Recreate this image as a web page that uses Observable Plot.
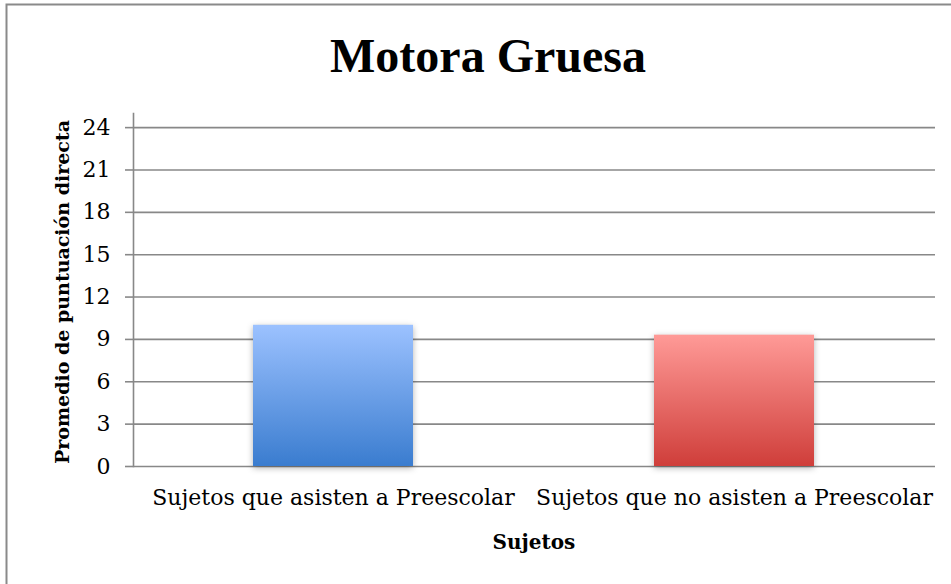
<!DOCTYPE html>
<html><head><meta charset="utf-8">
<script src="https://cdn.jsdelivr.net/npm/d3@7"></script>
<script src="https://cdn.jsdelivr.net/npm/@observablehq/plot@0.6"></script>
<style>body{margin:0;background:#fff}</style>
</head><body><div id="chart"></div>
<script>
const title = "Motora Gruesa";
const yLabel = "Promedio de puntuación directa";
const xLabel = "Sujetos";
const categories = ["Sujetos que asisten a Preescolar", "Sujetos que no asisten a Preescolar"];
const values = [10.0, 9.3];
const yTicks = [0, 3, 6, 9, 12, 15, 18, 21, 24];
const gradientTop = ["#9CC2FF", "#FF9A97"];
const gradientBottom = ["#3A7CCF", "#CF3E3A"];

const data = categories.map((c, i) => ({cat: c, value: values[i], fill: `url(#grad${i})`}));
const labelFont = "'DejaVu Serif', serif";

const chart = Plot.plot({
  width: 951, height: 584,
  marginTop: 113, marginBottom: 118, marginLeft: 133, marginRight: 16,
  style: {fontFamily: labelFont, fontSize: "22px", color: "#000", background: "#fff", overflow: "visible"},
  x: {domain: categories, paddingInner: 0.6, paddingOuter: 0.3, label: null, tickSize: 0, tickPadding: 23},
  y: {domain: [0, 25], ticks: yTicks, label: null, tickSize: 8, tickPadding: 15},
  color: {type: "identity"},
  marks: [
    Plot.ruleY(yTicks, {stroke: "#888888", strokeWidth: 1.6}),
    Plot.barY(data, {x: "cat", y: "value", fill: "fill"}),
    Plot.frame({anchor: "left", stroke: "#888888", strokeWidth: 1.6})
  ]
});

const svg = d3.select(chart);
svg.selectAll("g[aria-label='y-axis tick'] path, g[aria-label='y-axis'] path").attr("stroke", "#888888").attr("stroke-width", 1.6);
svg.selectAll("[aria-label='bar'] rect").style("filter", "drop-shadow(0px 2px 3px rgba(0,0,0,0.3))");
const defs = svg.insert("defs", ":first-child");
categories.forEach((c, i) => {
  const g = defs.append("linearGradient").attr("id", `grad${i}`).attr("x1", 0).attr("y1", 0).attr("x2", 0).attr("y2", 1);
  g.append("stop").attr("offset", "0%").attr("stop-color", gradientTop[i]);
  g.append("stop").attr("offset", "100%").attr("stop-color", gradientBottom[i]);
});
// outer border
svg.insert("rect", "defs + *").attr("x", 6.5).attr("y", 4.5).attr("width", 1000).attr("height", 1000)
  .attr("fill", "none").attr("stroke", "#8a8a8a").attr("stroke-width", 2);
// title
svg.append("text").attr("x", 488).attr("y", 72).attr("text-anchor", "middle")
  .attr("font-family", "'Liberation Serif', serif").attr("font-weight", "bold").attr("font-size", 48)
  .attr("fill", "#000").text(title);
// y label
svg.append("text").attr("transform", "translate(69,292) rotate(-90)").attr("text-anchor", "middle")
  .attr("font-family", labelFont).attr("font-weight", "bold").attr("font-size", 19)
  .attr("fill", "#000").text(yLabel);
// x label
svg.append("text").attr("x", 534).attr("y", 549).attr("text-anchor", "middle")
  .attr("font-family", labelFont).attr("font-weight", "bold").attr("font-size", 20)
  .attr("fill", "#000").text(xLabel);
document.getElementById("chart").appendChild(chart);
</script>
</body></html>
